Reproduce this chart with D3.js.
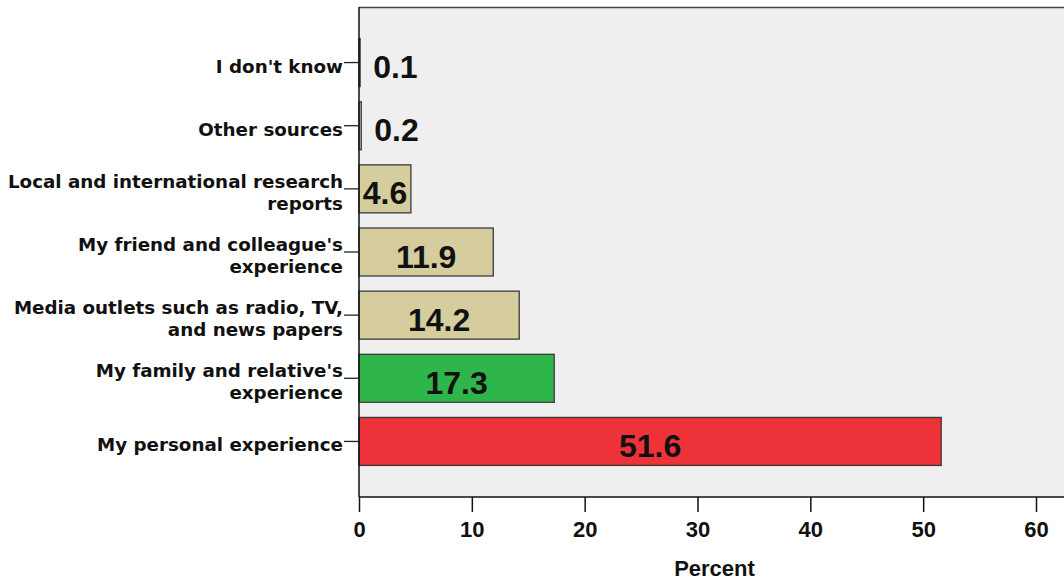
<!DOCTYPE html>
<html>
<head>
<meta charset="utf-8">
<script src="https://cdn.jsdelivr.net/npm/d3@7/dist/d3.min.js"></script>
<style>
  html, body { margin: 0; padding: 0; background: #ffffff; }
  svg { display: block; }
</style>
</head>
<body>
<script>
// ---- data ----
const categories = [
  ["I don't know"],
  ["Other sources"],
  ["Local and international research", "reports"],
  ["My friend and colleague's", "experience"],
  ["Media outlets such as radio, TV,", "and news papers"],
  ["My family and relative's", "experience"],
  ["My personal experience"]
];
const values = [0.1, 0.2, 4.6, 11.9, 14.2, 17.3, 51.6];
const barColors = ["#d5cd9d", "#d5cd9d", "#d5cd9d", "#d5cd9d", "#d5cd9d", "#2eb64b", "#ee3239"];
const xTicks = [0, 10, 20, 30, 40, 50, 60];
const xTitle = "Percent";

// ---- layout ----
const W = 1064, H = 580;
const plotLeft = 359, plotTop = 7, plotBottom = 497, plotRight = 1100;
const font = "'Liberation Sans', Arial, sans-serif";
const catFont = "'DejaVu Sans', Verdana, sans-serif";

const svg = d3.select("body").append("svg").attr("width", W).attr("height", H);

const x = d3.scaleLinear().domain([0, 60]).range([plotLeft, 1036]);
const ids = categories.map((c, i) => i);
const y = d3.scaleBand().domain(ids).range([plotTop, plotBottom]).paddingInner(0.24).paddingOuter(0.5);

// plot background
svg.append("rect")
  .attr("x", plotLeft).attr("y", plotTop)
  .attr("width", plotRight - plotLeft).attr("height", plotBottom - plotTop)
  .attr("fill", "#efefef");
// top border
svg.append("line")
  .attr("x1", plotLeft).attr("x2", plotRight)
  .attr("y1", plotTop + 0.5).attr("y2", plotTop + 0.5)
  .attr("stroke", "#444").attr("stroke-width", 1.5);

// bars
svg.append("g").selectAll("rect").data(values).join("rect")
  .attr("x", x(0))
  .attr("y", (d, i) => y(i))
  .attr("width", d => x(d) - x(0))
  .attr("height", y.bandwidth())
  .attr("fill", (d, i) => barColors[i])
  .attr("stroke", "#3a3a3a")
  .attr("stroke-width", 1.3);

// value labels
const small = d => (x(d) - x(0)) < 20;
svg.append("g").selectAll("text").data(values).join("text")
  .attr("x", d => small(d) ? x(d) + 13 : (x(0) + x(d)) / 2)
  .attr("y", (d, i) => y(i) + y.bandwidth() / 2 + 15.5)
  .attr("text-anchor", d => small(d) ? "start" : "middle")
  .attr("font-family", font)
  .attr("font-weight", "bold")
  .attr("font-size", 32)
  .attr("fill", "#111")
  .text(d => d.toFixed(1));

// y axis
const yAxis = d3.axisLeft(y).tickSize(15).tickFormat(() => "");
const gy = svg.append("g").attr("transform", `translate(${plotLeft},0)`).call(yAxis);
gy.select(".domain").attr("stroke", "#111").attr("stroke-width", 1.5)
  .attr("d", `M0,${plotTop}V${plotBottom}`);
gy.selectAll(".tick line").attr("stroke", "#222").attr("stroke-width", 1.3);
gy.selectAll(".tick").each(function(d) {
  const lines = categories[d];
  const t = d3.select(this).append("text")
    .attr("x", -16)
    .attr("text-anchor", "end")
    .attr("font-family", catFont)
    .attr("font-weight", "bold")
    .attr("font-size", 18.3)
    .attr("fill", "#111");
  const lh = 22;
  const off = -(lines.length - 1) * lh / 2 + 10;
  lines.forEach((ln, k) => {
    t.append("tspan").attr("x", -16).attr("y", off + k * lh).text(ln);
  });
});

// x axis
const xAxis = d3.axisBottom(x).tickValues(xTicks).tickSize(15).tickPadding(9);
const gx = svg.append("g").attr("transform", `translate(0,${plotBottom})`).call(xAxis);
gx.select(".domain").attr("stroke", "#111").attr("stroke-width", 1.5)
  .attr("d", `M${plotLeft},0H${plotRight}`);
gx.selectAll(".tick line").attr("stroke", "#111").attr("stroke-width", 1.5);
gx.selectAll(".tick text")
  .attr("font-family", font)
  .attr("font-weight", "bold")
  .attr("font-size", 22)
  .attr("fill", "#111");

svg.append("text")
  .attr("x", (plotLeft + W) / 2 + 3)
  .attr("y", 576)
  .attr("text-anchor", "middle")
  .attr("font-family", font)
  .attr("font-weight", "bold")
  .attr("font-size", 22)
  .attr("fill", "#111")
  .text(xTitle);
</script>
</body>
</html>
